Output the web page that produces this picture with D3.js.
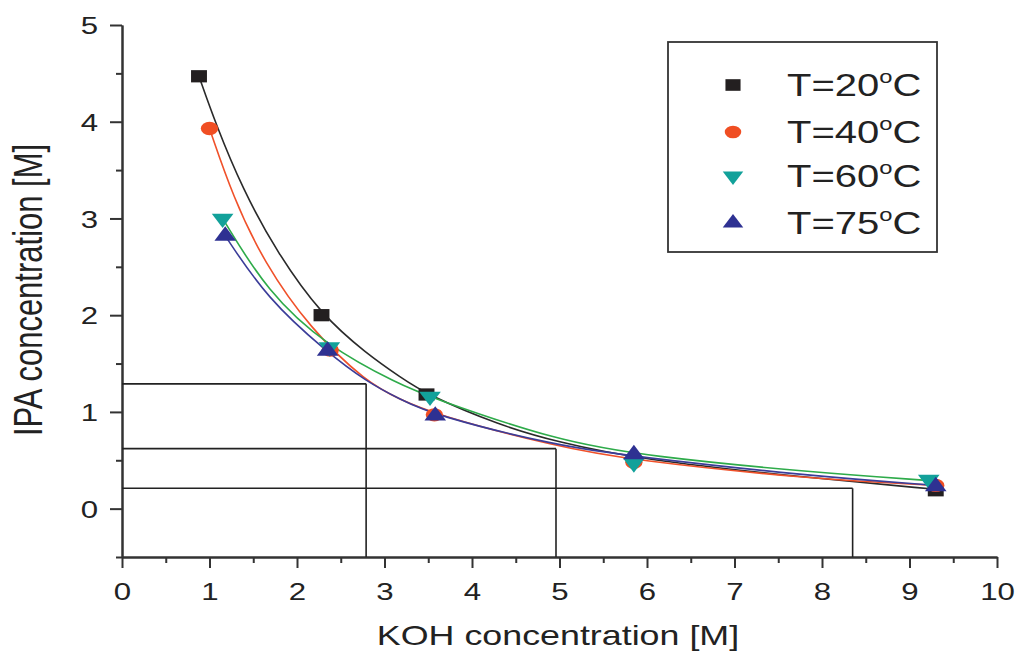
<!DOCTYPE html>
<html>
<head>
<meta charset="utf-8">
<script src="https://cdn.jsdelivr.net/npm/d3@7"></script>
<style>
  body { margin: 0; background: #fff; }
  text { font-family: "Liberation Sans", Arial, sans-serif; fill: #222; }
</style>
</head>
<body>
<div id="chart"></div>
<script>
// measured data points (KOH vs IPA concentration)
const koh20 = [0.88, 2.28, 3.48, 9.3];
const ipa20 = [4.47, 2.0, 1.18, 0.19];
const koh40 = [1.0, 2.38, 3.57, 5.85, 9.3];
const ipa40 = [3.93, 1.64, 0.97, 0.48, 0.24];
const koh60 = [1.15, 2.37, 3.52, 5.85, 9.22];
const ipa60 = [3.0, 1.67, 1.16, 0.47, 0.3];
const koh75 = [1.18, 2.35, 3.58, 5.85, 9.3];
const ipa75 = [2.82, 1.63, 0.96, 0.56, 0.23];

// fitted curves
const fit20x = [0.88, 1.07, 1.38, 1.77, 2.28, 2.8, 3.18, 3.48, 4.32, 4.97, 5.9, 7.83, 9.3];
const fit20y = [4.47, 3.98, 3.3, 2.65, 2.0, 1.6, 1.36, 1.18, 0.86, 0.69, 0.51, 0.32, 0.2];
const fit40x = [1.0, 1.27, 1.62, 2.15, 2.8, 3.18, 3.55, 4.97, 5.84, 7.83, 9.3];
const fit40y = [3.93, 3.22, 2.55, 1.86, 1.3, 1.13, 0.98, 0.64, 0.5, 0.31, 0.24];
const fit60x = [1.15, 1.66, 2.34, 3.18, 3.5, 4.97, 6.03, 7.83, 9.23];
const fit60y = [3.0, 2.24, 1.68, 1.28, 1.16, 0.7, 0.54, 0.38, 0.29];
const fit75x = [1.18, 1.66, 2.34, 2.8, 3.18, 3.55, 4.97, 5.84, 7.83, 9.3];
const fit75y = [2.82, 2.17, 1.62, 1.31, 1.13, 0.97, 0.65, 0.54, 0.34, 0.24];

// guide lines
const guideIPA = [1.29, 0.62, 0.21];
const guideKOH = [2.79, 4.96, 8.35];

const legendLabels = ["20", "40", "60", "75"];
const xTicks = d3.range(0, 11, 1);
const yTicks = d3.range(0, 6, 1);

const width = 1018, height = 653;
const sx = 1.3; // the picture is stretched sideways

const svg = d3.select("#chart").append("svg")
    .attr("width", width)
    .attr("height", height);

const x = d3.scaleLinear().domain([0, 10]).range([122, 997]);
const y = d3.scaleLinear().domain([-0.5, 5]).range([557, 25]);

// axes
const xMinor = d3.axisBottom(x).tickValues(d3.range(0.5, 10, 1)).tickSize(6).tickFormat("").tickSizeOuter(0);
const xMajor = d3.axisBottom(x).tickValues(xTicks).tickSize(11).tickFormat(d3.format("d")).tickSizeOuter(0);
const yMinor = d3.axisLeft(y).tickValues(d3.range(-0.5, 5, 1)).tickSize(6).tickFormat("").tickSizeOuter(0);
const yMajor = d3.axisLeft(y).tickValues(yTicks).tickSize(12).tickFormat(d3.format("d")).tickSizeOuter(0);

function styleAxis(g) {
    g.selectAll("path, line").attr("stroke", "#333").attr("stroke-width", 2);
}

svg.append("g").attr("transform", `translate(0,${y(-0.5)})`).call(xMinor).call(styleAxis);
const gx = svg.append("g").attr("transform", `translate(0,${y(-0.5)})`).call(xMajor).call(styleAxis);
gx.selectAll("text")
    .attr("y", 26)
    .attr("dy", "0.71em")
    .attr("transform", `scale(${sx},1)`)
    .style("font-size", "24px")
    .attr("fill", "#333");

svg.append("g").attr("transform", `translate(${x(0)},0)`).call(yMinor).call(styleAxis);
const gy = svg.append("g").attr("transform", `translate(${x(0)},0)`).call(yMajor).call(styleAxis);
gy.selectAll("text")
    .attr("x", -24 / sx)
    .attr("dy", "0.36em")
    .attr("transform", `scale(${sx},1)`)
    .style("font-size", "24px")
    .attr("fill", "#333");

// guide lines
guideIPA.forEach((v, i) => {
    svg.append("line")
        .attr("x1", x(0)).attr("x2", x(guideKOH[i]))
        .attr("y1", y(v)).attr("y2", y(v))
        .attr("stroke", "#222").attr("stroke-width", 1.6);
    svg.append("line")
        .attr("x1", x(guideKOH[i])).attr("x2", x(guideKOH[i]))
        .attr("y1", y(v)).attr("y2", y(-0.5))
        .attr("stroke", "#222").attr("stroke-width", 1.6);
});

// fitted curves
const line = d3.line()
    .x(d => x(d[0]))
    .y(d => y(d[1]))
    .curve(d3.curveBasis);

const fits = [
    { xs: fit20x, ys: fit20y, color: "#2a2a2a" },
    { xs: fit40x, ys: fit40y, color: "#f0512a" },
    { xs: fit60x, ys: fit60y, color: "#2eab4a" },
    { xs: fit75x, ys: fit75y, color: "#3b3d99" }
];
fits.forEach(f => {
    svg.append("path")
        .datum(f.xs.map((v, i) => [v, f.ys[i]]))
        .attr("d", line)
        .attr("fill", "none")
        .attr("stroke", f.color)
        .attr("stroke-width", 1.6);
});

// markers
const series = [
    { xs: koh20, ys: ipa20, color: "#231f20", shape: d3.symbolSquare, size: 150, rot: 0 },
    { xs: koh40, ys: ipa40, color: "#f04e23", shape: d3.symbolCircle, size: 140, rot: 0 },
    { xs: koh60, ys: ipa60, color: "#12a19a", shape: d3.symbolTriangle, size: 120, rot: 180 },
    { xs: koh75, ys: ipa75, color: "#2e3192", shape: d3.symbolTriangle, size: 120, rot: 0 }
];
series.forEach(s => {
    svg.append("g").selectAll("path")
        .data(s.xs.map((v, i) => [v, s.ys[i]]))
        .join("path")
        .attr("d", d3.symbol(s.shape, s.size))
        .attr("transform", d => `translate(${x(d[0])},${y(d[1])}) scale(${sx},1) rotate(${s.rot})`)
        .attr("fill", s.color);
});

// legend
svg.append("rect")
    .attr("x", 668).attr("y", 42)
    .attr("width", 269).attr("height", 210)
    .attr("fill", "#fff")
    .attr("stroke", "#333")
    .attr("stroke-width", 1.8);

const rowY = [85, 132, 176, 223];
series.forEach((s, i) => {
    svg.append("path")
        .attr("d", d3.symbol(s.shape, s.size * 0.9))
        .attr("transform", `translate(733,${rowY[i]}) scale(${sx},1) rotate(${s.rot})`)
        .attr("fill", s.color);
    const t = svg.append("text")
        .attr("transform", `translate(787,${rowY[i] + 11}) scale(1.25,1)`)
        .style("font-size", "32px");
    t.append("tspan").text(`T=${legendLabels[i]}`);
    t.append("tspan").attr("dy", -13).style("font-size", "19px").text("o");
    t.append("tspan").attr("dy", 13).text("C");
});

// axis titles
svg.append("text")
    .attr("transform", `translate(558,645) scale(1.28,1)`)
    .attr("text-anchor", "middle")
    .style("font-size", "28px")
    .text("KOH concentration [M]");

svg.append("text")
    .attr("transform", `translate(42,290) scale(${sx},1) rotate(-90)`)
    .attr("text-anchor", "middle")
    .style("font-size", "31px")
    .text("IPA concentration [M]");
</script>
</body>
</html>
